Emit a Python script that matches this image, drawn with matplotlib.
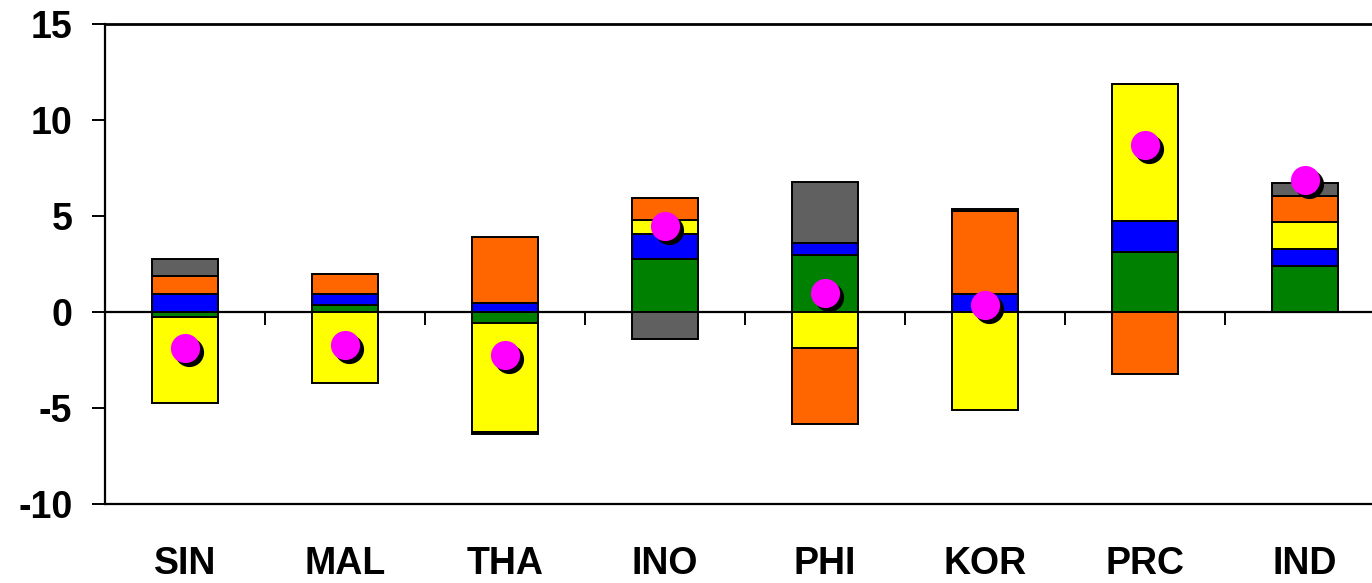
import numpy as np
import matplotlib
matplotlib.use("Agg")
import matplotlib.pyplot as plt
import matplotlib.transforms as mtransforms

plt.rcParams['font.family'] = ['Liberation Sans', 'DejaVu Sans']

categories = ['SIN', 'MAL', 'THA', 'INO', 'PHI', 'KOR', 'PRC', 'IND']
green = [-0.28, 0.36, -0.59, 2.74, 2.97, 0.00, 3.14, 2.40]
blue = [0.92, 0.56, 0.47, 1.31, 0.64, 0.92, 1.62, 0.87]
yellow = [-4.47, -3.71, -5.68, 0.74, -1.86, -5.10, 7.10, 1.40]
orange = [0.95, 1.07, 3.42, 1.13, -3.97, 4.34, -3.23, 1.37]
gray = [0.89, 0.00, -0.06, -1.42, 3.18, 0.12, 0.00, 0.66]
total = [-1.90, -1.72, -2.24, 4.49, 0.97, 0.36, 8.70, 6.89]

series = [green, blue, yellow, orange, gray]
colors = ['#008000', '#0000FF', '#FFFF00', '#FF6600', '#606060']

W, H = 1372, 583
fig = plt.figure(figsize=(W / 100, H / 100), dpi=100)
ax = fig.add_axes([105 / W, (H - 504) / H, (1385 - 105) / W, (504 - 24) / H])

x = np.arange(len(categories))
pos_base = np.zeros(len(categories))
neg_base = np.zeros(len(categories))
for vals, col in zip(series, colors):
    v = np.array(vals, dtype=float)
    bottoms = np.where(v >= 0, pos_base, neg_base)
    ax.bar(x, v, width=0.41, bottom=bottoms, color=col, edgecolor='black',
           linewidth=1.4, zorder=3)
    pos_base = pos_base + np.where(v >= 0, v, 0)
    neg_base = neg_base + np.where(v < 0, v, 0)

shadow = ax.transData + mtransforms.ScaledTranslation(4 / 100, -4 / 100, fig.dpi_scale_trans)
ax.scatter(x, total, s=440, color='black', linewidths=0, zorder=4, transform=shadow)
ax.scatter(x, total, s=440, color='#FF00FF', linewidths=0, zorder=5)

ax.set_xlim(-0.5, len(categories) - 0.5)
ax.set_ylim(-10, 15)
ax.set_yticks([-10, -5, 0, 5, 10, 15])
ax.set_yticklabels(['-10', '-5', '0', '5', '10', '15'])
ax.tick_params(axis='y', direction='out', length=9.5, width=1.4, pad=14,
               labelsize=27)
for lbl in ax.get_yticklabels():
    lbl.set_fontweight('bold')

ax.set_xticks(x)
ax.set_xticklabels(categories, fontsize=27, fontweight='bold')
ax.tick_params(axis='x', length=0, pad=30)

for side in ['left', 'bottom', 'top']:
    ax.spines[side].set_linewidth(1.6)
ax.spines['top'].set_linewidth(2.0)
ax.spines['right'].set_visible(False)

# category axis crossing at zero
sec = ax.secondary_xaxis(0.4)
sec.set_xticks(np.arange(-0.5, len(categories), 1.0))
sec.set_xticklabels([])
sec.tick_params(axis='x', direction='out', length=9.5, width=1.4)
sec.spines['bottom'].set_linewidth(1.6)
sec.set_zorder(2)

fig.savefig('out.png', dpi=100)
